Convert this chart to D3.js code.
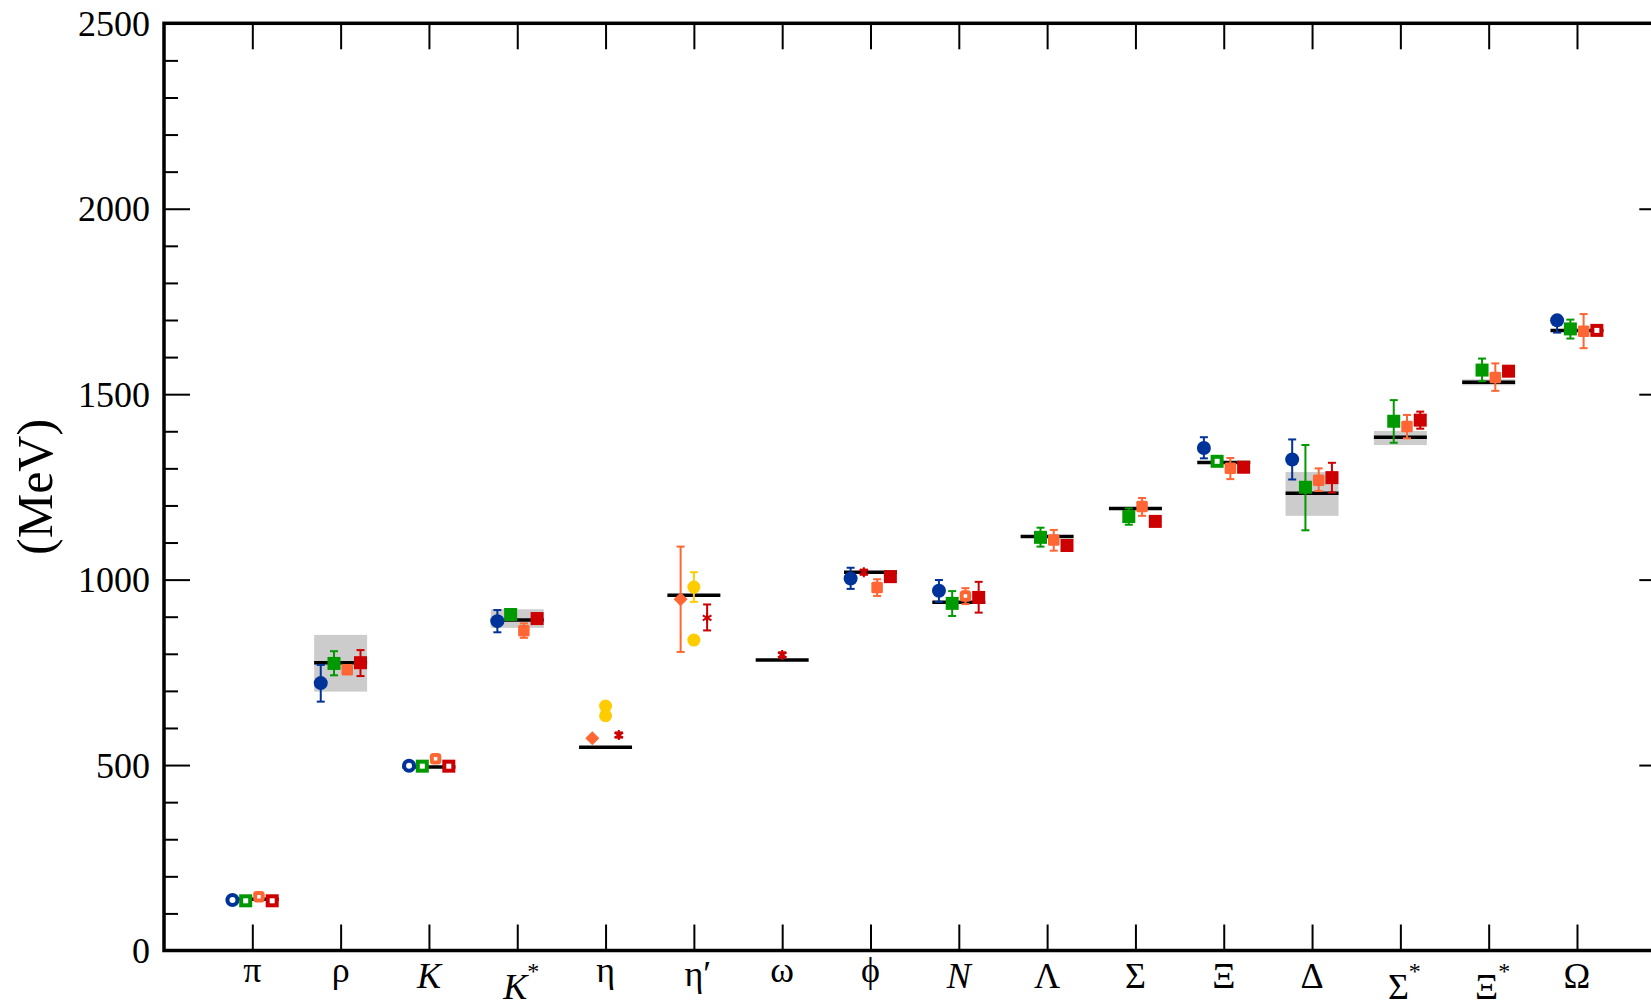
<!DOCTYPE html>
<html>
<head>
<meta charset="utf-8">
<script src="https://cdn.jsdelivr.net/npm/d3@7"></script>
<style>
body { margin: 0; background: #fff; }
svg { display: block; font-family: "Liberation Serif", "DejaVu Serif", serif; }
</style>
</head>
<body>
<div id="content"></div>
<script>
// hadrons on the x axis
var categories = ["π", "ρ", "K", "K*", "η", "η′", "ω", "ϕ", "N", "Λ", "Σ", "Ξ", "Δ", "Σ*", "Ξ*", "Ω"];
var italicLabels = ["K", "K*", "N"];

// experimental masses (black bars) and width bands (grey), MeV
var expMass  = [138, 776, 495, 891, 548, 958, 783, 1020, 939, 1116, 1192, 1316, 1233, 1384, 1532, 1672];
var bandLow  = [null, 698, null, 870, null, null, null, null, null, null, null, null, 1172, 1363, 1524, null];
var bandHigh = [null, 851, null, 920, null, null, null, null, null, null, null, null, 1290, 1401, 1540, null];

// lattice results
var blueMass = [136, 721, 498, 888, null, null, null, 1003, 970, null, null, 1355, 1324, null, null, 1699];
var blueLow  = [null, 671, null, 858, null, null, null, 975, 940, null, null, 1327, 1270, null, null, 1666];
var blueHigh = [null, 770, null, 918, null, null, null, 1032, 999, null, null, 1384, 1378, null, null, 1705];
var blueOpenAt = ["π", "K"];

var greenMass = [134, 774, 497, 906, null, null, null, null, 936, 1114, 1170, 1319, 1249, 1427, 1565, 1676];
var greenLow  = [null, 742, null, null, null, null, null, null, 902, 1089, 1148, null, 1133, 1369, 1535, 1650];
var greenHigh = [null, 807, null, null, null, null, null, null, 969, 1140, 1192, null, 1363, 1484, 1596, 1701];
var greenOpenAt = ["π", "K", "Ξ"];

var orangeMass = [145, 757, 517, 862, null, null, null, 979, 956, 1107, 1197, 1300, 1268, 1413, 1545, 1670];
var orangeLow  = [null, null, null, 843, null, null, null, 956, 934, 1078, 1172, 1271, 1239, 1381, 1509, 1624];
var orangeHigh = [null, null, null, 882, null, null, null, 1001, 977, 1134, 1220, 1328, 1300, 1444, 1583, 1716];
var orangeOpenAt = ["π", "K", "N"];

var redMass = [134, 776, 497, 895, null, null, null, 1008, 952, 1092, 1157, 1303, 1275, 1430, 1562, 1672];
var redLow  = [null, 740, null, null, null, null, null, null, 911, 1083, 1149, null, 1235, 1407, null, null];
var redHigh = [null, 810, null, null, null, null, null, null, 994, 1100, 1165, null, 1315, 1453, null, null];
var redOpenAt = ["π", "K", "Ω"];

var starMass = [null, null, null, null, 581, 897, 797, 1020, null, null, null, null, null, null, null, null];
var starLow  = [null, null, null, null, 574, 863, 790, 1013, null, null, null, null, null, null, null, null];
var starHigh = [null, null, null, null, 588, 933, 804, 1027, null, null, null, null, null, null, null, null];

var diamondMass = [null, null, null, null, 572, 947, null, null, null, null, null, null, null, null, null, null];
var diamondLow  = [null, null, null, null, null, 805, null, null, null, null, null, null, null, null, null, null];
var diamondHigh = [null, null, null, null, null, 1089, null, null, null, null, null, null, null, null, null, null];

var yellowAMass = [null, null, null, null, 633, 980, null, null, null, null, null, null, null, null, null, null];
var yellowALow  = [null, null, null, null, null, 940, null, null, null, null, null, null, null, null, null, null];
var yellowAHigh = [null, null, null, null, null, 1020, null, null, null, null, null, null, null, null, null, null];
var yellowBMass = [null, null, null, null, 659, 837, null, null, null, null, null, null, null, null, null, null];

var yMajor = [0, 500, 1000, 1500, 2000, 2500];
var yMinor = d3.range(0, 2501, 100).filter(function (d) { return d % 500 !== 0; });

var width = 1651;
var height = 1000;

var x = d3.scaleLinear().domain([-1, 16]).range([164, 1665.3]);
var y = d3.scaleLinear().domain([0, 2500]).range([950.5, 23.3]);

var svg = d3.select("#content").append("svg").attr("width", width).attr("height", height);

// series drawing styles
var series = [
    { mass: blueMass, low: blueLow, high: blueHigh, open: blueOpenAt, color: "#003399", shape: "circle", size: 14, offset: -0.225 },
    { mass: greenMass, low: greenLow, high: greenHigh, open: greenOpenAt, color: "#009900", shape: "square", size: 13, offset: -0.075 },
    { mass: orangeMass, low: orangeLow, high: orangeHigh, open: orangeOpenAt, color: "#ff6633", shape: "square", size: 11.5, offset: 0.075 },
    { mass: redMass, low: redLow, high: redHigh, open: redOpenAt, color: "#cc0000", shape: "square", size: 13, offset: 0.225 },
    { mass: diamondMass, low: diamondLow, high: diamondHigh, open: [], color: "#ff6633", shape: "diamond", size: 14, offset: -0.15 },
    { mass: yellowAMass, low: yellowALow, high: yellowAHigh, open: [], color: "#ffcc00", shape: "circle", size: 13, offset: 0 },
    { mass: yellowBMass, low: [], high: [], open: [], color: "#ffcc00", shape: "circle", size: 13, offset: 0 },
    { mass: starMass, low: starLow, high: starHigh, open: [], color: "#cc0000", shape: "star", size: 12,
      offset: { "η": 0.15, "η′": 0.15, "ω": 0, "ϕ": -0.075 } }
];

// grey width bands
svg.append("g").selectAll("rect")
    .data(d3.range(categories.length).filter(function (i) { return bandLow[i] !== null; }))
    .enter()
    .append("rect")
    .attr("x", function (i) { return x(i - 0.3); })
    .attr("width", function (i) { return x(i + 0.3) - x(i - 0.3); })
    .attr("y", function (i) { return y(bandHigh[i]); })
    .attr("height", function (i) { return y(bandLow[i]) - y(bandHigh[i]); })
    .attr("fill", "#cccccc");

// experimental mass bars
svg.append("g").selectAll("line")
    .data(d3.range(categories.length))
    .enter()
    .append("line")
    .attr("x1", function (i) { return x(i - 0.3); })
    .attr("x2", function (i) { return x(i + 0.3); })
    .attr("y1", function (i) { return y(expMass[i]); })
    .attr("y2", function (i) { return y(expMass[i]); })
    .attr("stroke", "#000")
    .attr("stroke-width", 3.5);

series.forEach(function (s) {
    var pts = [];
    s.mass.forEach(function (m, i) {
        if (m === null || m === undefined) return;
        var off = typeof s.offset === "number" ? s.offset : s.offset[categories[i]];
        pts.push({ i: i, m: m, lo: s.low[i], hi: s.high[i], cx: x(i + off), open: s.open.indexOf(categories[i]) >= 0 });
    });

    var g = svg.append("g");

    var eb = g.selectAll(".err")
        .data(pts.filter(function (p) { return p.lo !== null && p.lo !== undefined; }))
        .enter()
        .append("g")
        .attr("stroke", s.color)
        .attr("stroke-width", 2);
    eb.append("line")
        .attr("x1", function (p) { return p.cx; })
        .attr("x2", function (p) { return p.cx; })
        .attr("y1", function (p) { return y(p.lo); })
        .attr("y2", function (p) { return y(p.hi); });
    eb.append("line")
        .attr("x1", function (p) { return p.cx - 4; })
        .attr("x2", function (p) { return p.cx + 4; })
        .attr("y1", function (p) { return y(p.lo); })
        .attr("y2", function (p) { return y(p.lo); });
    eb.append("line")
        .attr("x1", function (p) { return p.cx - 4; })
        .attr("x2", function (p) { return p.cx + 4; })
        .attr("y1", function (p) { return y(p.hi); })
        .attr("y2", function (p) { return y(p.hi); });

    var mk = g.selectAll(".mk")
        .data(pts)
        .enter();

    if (s.shape === "circle") {
        mk.append("circle")
            .attr("cx", function (p) { return p.cx; })
            .attr("cy", function (p) { return y(p.m); })
            .attr("r", function (p) { return p.open ? s.size / 2 - 2 : s.size / 2; })
            .attr("fill", function (p) { return p.open ? "#fff" : s.color; })
            .attr("stroke", function (p) { return p.open ? s.color : "none"; })
            .attr("stroke-width", 4);
    } else if (s.shape === "square") {
        mk.append("rect")
            .attr("x", function (p) { return p.cx - (p.open ? s.size / 2 - 2 : s.size / 2); })
            .attr("y", function (p) { return y(p.m) - (p.open ? s.size / 2 - 2 : s.size / 2); })
            .attr("width", function (p) { return p.open ? s.size - 4 : s.size; })
            .attr("height", function (p) { return p.open ? s.size - 4 : s.size; })
            .attr("rx", s.color === "#ff6633" ? 1.5 : 0)
            .attr("fill", function (p) { return p.open ? "#fff" : s.color; })
            .attr("stroke", function (p) { return p.open ? s.color : "none"; })
            .attr("stroke-width", 4);
    } else if (s.shape === "diamond") {
        mk.append("path")
            .attr("d", function (p) {
                var cy = y(p.m), h = s.size / 2;
                return "M" + p.cx + "," + (cy - h) + "L" + (p.cx + h) + "," + cy + "L" + p.cx + "," + (cy + h) + "L" + (p.cx - h) + "," + cy + "Z";
            })
            .attr("fill", s.color);
    } else {
        mk.append("path")
            .attr("transform", function (p) { return "translate(" + p.cx + "," + y(p.m) + ")"; })
            .attr("d", d3.symbol(d3.symbolAsterisk, 70))
            .attr("fill", "none")
            .attr("stroke", s.color)
            .attr("stroke-width", 2);
    }
});

// axes with inward ticks
var leftMajor = svg.append("g").attr("transform", "translate(" + x(-1) + ",0)")
    .call(d3.axisLeft(y).tickValues(yMajor).tickSize(-26).tickPadding(14).tickFormat(d3.format("d")));
var leftMinor = svg.append("g").attr("transform", "translate(" + x(-1) + ",0)")
    .call(d3.axisLeft(y).tickValues(yMinor).tickSize(-14).tickFormat(""));
var rightMajor = svg.append("g").attr("transform", "translate(" + x(16) + ",0)")
    .call(d3.axisRight(y).tickValues(yMajor).tickSize(-26).tickFormat(""));
var rightMinor = svg.append("g").attr("transform", "translate(" + x(16) + ",0)")
    .call(d3.axisRight(y).tickValues(yMinor).tickSize(-14).tickFormat(""));
var bottomAxis = svg.append("g").attr("transform", "translate(0," + y(0) + ")")
    .call(d3.axisBottom(x).tickValues(d3.range(16)).tickSize(-26).tickFormat(""));
var topAxis = svg.append("g").attr("transform", "translate(0," + y(2500) + ")")
    .call(d3.axisTop(x).tickValues(d3.range(16)).tickSize(-26).tickFormat(""));

[leftMajor, leftMinor, rightMajor, rightMinor, bottomAxis, topAxis].forEach(function (a) {
    a.select(".domain").remove();
    a.selectAll("line").attr("stroke-width", 2);
});

leftMajor.selectAll("text")
    .attr("font-family", "Liberation Serif, serif")
    .attr("font-size", 36)
    .attr("fill", "#000")
    .attr("dy", "0.34em");

svg.append("rect")
    .attr("x", x(-1))
    .attr("y", y(2500))
    .attr("width", x(16) - x(-1))
    .attr("height", y(0) - y(2500))
    .attr("fill", "none")
    .attr("stroke", "#000")
    .attr("stroke-width", 3.5);

// category labels
var labels = svg.append("g").attr("font-size", 36).attr("text-anchor", "middle");
categories.forEach(function (c, i) {
    var base = c.replace("*", "").replace("′", "");
    var star = c.indexOf("*") >= 0;
    var prime = c.indexOf("′") >= 0;
    var lower = /[πρηωϕ]/.test(base);
    var yy = star ? 999 : (prime ? 986 : (lower ? 982 : 988));
    var t = labels.append("text")
        .attr("x", x(i) + (star || prime ? 4 : 0))
        .attr("y", yy);
    t.append("tspan")
        .attr("font-style", italicLabels.indexOf(c) >= 0 ? "italic" : "normal")
        .text(base);
    if (star) {
        t.append("tspan").attr("font-size", 24).attr("dy", -20).text("*");
    }
    if (prime) {
        t.append("tspan").text("′");
    }
});

svg.append("text")
    .attr("transform", "translate(52," + ((y(0) + y(2500)) / 2) + ") rotate(-90)")
    .attr("text-anchor", "middle")
    .attr("font-size", 50)
    .text("(MeV)");
</script>
</body>
</html>
